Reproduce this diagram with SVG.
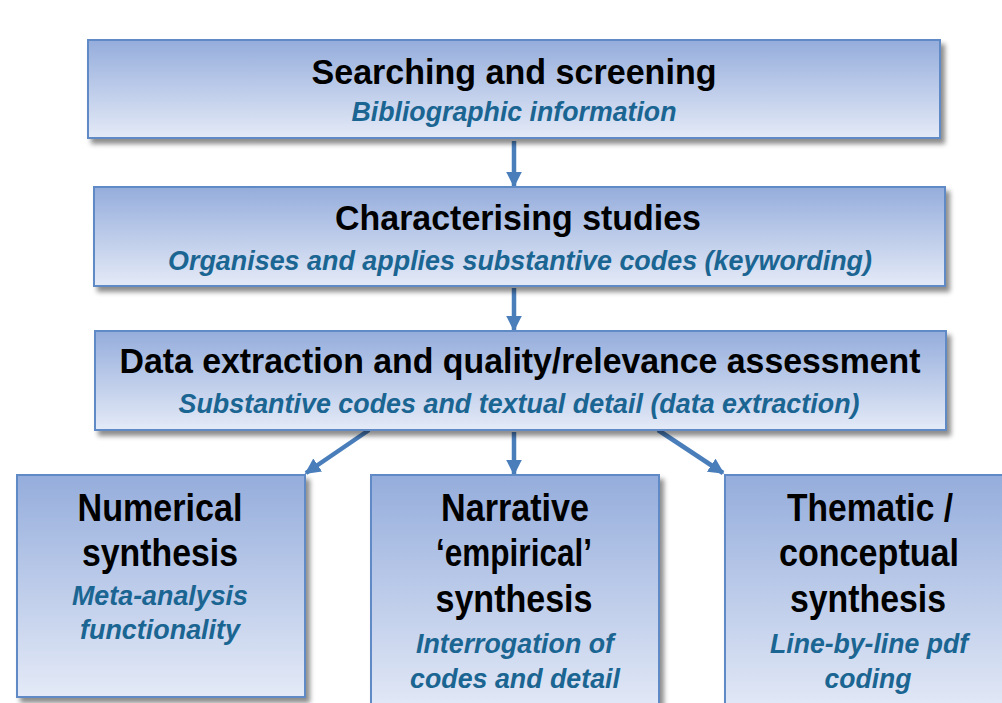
<svg xmlns="http://www.w3.org/2000/svg" width="1002" height="703" viewBox="0 0 1002 703">
<defs>
<linearGradient id="g" x1="0" y1="0" x2="0" y2="1">
<stop offset="0" stop-color="#95addc"/>
<stop offset="1" stop-color="#e4eaf7"/>
</linearGradient>
<filter id="sh" x="-5%" y="-5%" width="115%" height="120%">
<feGaussianBlur in="SourceAlpha" stdDeviation="2.5"/>
<feOffset dx="4" dy="5" result="b"/>
<feFlood flood-color="#000" flood-opacity="0.45"/>
<feComposite in2="b" operator="in"/>
<feMerge><feMergeNode/><feMergeNode in="SourceGraphic"/></feMerge>
</filter>
<marker id="ah" viewBox="0 0 10 10" refX="9" refY="5" markerWidth="3.5" markerHeight="3.5" markerUnits="strokeWidth" orient="auto">
<path d="M0,0 L10,5 L0,10 z" fill="#4a7ebb"/>
</marker>
<style>
.box{fill:url(#g);stroke:#5f8ac6;stroke-width:2;filter:url(#sh)}
.t{font-family:"Liberation Sans",Arial,sans-serif;font-weight:bold;fill:#000;text-anchor:middle}
.s{font-family:"Liberation Sans",Arial,sans-serif;font-weight:bold;font-style:italic;fill:#1a6592;text-anchor:middle}
.c{stroke:#4a7ebb;stroke-width:4.5;fill:none;marker-end:url(#ah)}
</style>
</defs>
<rect width="1002" height="703" fill="#fff"/>
<g id="connectors">
<line class="c" x1="514" y1="141" x2="514" y2="186"/>
<line class="c" x1="514" y1="288" x2="514" y2="330"/>
<line class="c" x1="514" y1="432" x2="514" y2="474"/>
<line class="c" x1="369" y1="430" x2="306" y2="473"/>
<line class="c" x1="658" y1="430" x2="723" y2="473"/>
</g>
<g id="n1">
<rect class="box" x="88" y="40" width="852" height="98"/>
<text class="t" x="514" y="84" font-size="35" textLength="405" lengthAdjust="spacingAndGlyphs">Searching and screening</text>
<text class="s" x="514" y="121" font-size="27" textLength="325" lengthAdjust="spacingAndGlyphs">Bibliographic information</text>
</g>
<g id="n2">
<rect class="box" x="94" y="187" width="851" height="99"/>
<text class="t" x="518" y="230" font-size="35" textLength="366" lengthAdjust="spacingAndGlyphs">Characterising studies</text>
<text class="s" x="520" y="270" font-size="27" textLength="704" lengthAdjust="spacingAndGlyphs">Organises and applies substantive codes (keywording)</text>
</g>
<g id="n3">
<rect class="box" x="95" y="331" width="851" height="99"/>
<text class="t" x="520" y="373" font-size="35" textLength="801" lengthAdjust="spacingAndGlyphs">Data extraction and quality/relevance assessment</text>
<text class="s" x="519" y="413" font-size="27" textLength="681" lengthAdjust="spacingAndGlyphs">Substantive codes and textual detail (data extraction)</text>
</g>
<g id="n4">
<rect class="box" x="17" y="475" width="288" height="222"/>
<text class="t" x="160" y="521" font-size="39" textLength="165" lengthAdjust="spacingAndGlyphs">Numerical</text>
<text class="t" x="160" y="566" font-size="39" textLength="156" lengthAdjust="spacingAndGlyphs">synthesis</text>
<text class="s" x="160" y="605" font-size="27" textLength="176" lengthAdjust="spacingAndGlyphs">Meta-analysis</text>
<text class="s" x="160" y="639" font-size="27" textLength="160" lengthAdjust="spacingAndGlyphs">functionality</text>
</g>
<g id="n5">
<rect class="box" x="371" y="475" width="288" height="240"/>
<text class="t" x="515" y="521" font-size="39" textLength="148" lengthAdjust="spacingAndGlyphs">Narrative</text>
<text class="t" x="514" y="566" font-size="39" textLength="156" lengthAdjust="spacingAndGlyphs">‘empirical’</text>
<text class="t" x="514" y="612" font-size="39" textLength="157" lengthAdjust="spacingAndGlyphs">synthesis</text>
<text class="s" x="515" y="653" font-size="27" textLength="198" lengthAdjust="spacingAndGlyphs">Interrogation of</text>
<text class="s" x="515" y="688" font-size="27" textLength="210" lengthAdjust="spacingAndGlyphs">codes and detail</text>
</g>
<g id="n6">
<rect class="box" x="725" y="475" width="300" height="240"/>
<text class="t" x="870" y="521" font-size="39" textLength="166" lengthAdjust="spacingAndGlyphs">Thematic /</text>
<text class="t" x="869" y="566" font-size="39" textLength="180" lengthAdjust="spacingAndGlyphs">conceptual</text>
<text class="t" x="868" y="612" font-size="39" textLength="156" lengthAdjust="spacingAndGlyphs">synthesis</text>
<text class="s" x="869" y="653" font-size="27" textLength="198" lengthAdjust="spacingAndGlyphs">Line-by-line pdf</text>
<text class="s" x="868" y="688" font-size="27" textLength="87" lengthAdjust="spacingAndGlyphs">coding</text>
</g>
</svg>
